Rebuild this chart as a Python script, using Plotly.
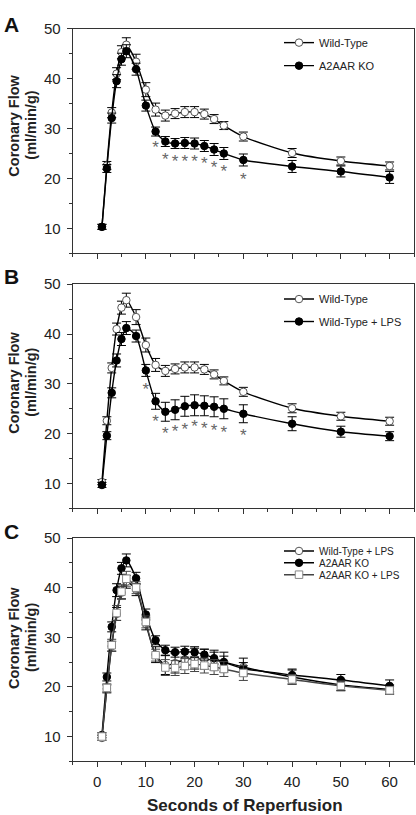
import plotly.graph_objects as go

# ---------------- data ----------------
time = [1, 2, 3, 4, 5, 6, 8, 10, 12, 14, 16, 18, 20, 22, 24, 26, 30, 40, 50, 60]

wt = [10.3, 22.6, 33.2, 41.0, 45.3, 46.8, 43.4, 37.8, 33.8, 32.6, 33.0, 33.3, 33.3, 32.9, 31.9, 30.6, 28.4, 25.1, 23.5, 22.5]
wt_err = [0.5, 0.8, 1.0, 1.2, 1.3, 1.4, 1.5, 1.4, 1.3, 1.1, 1.0, 1.1, 1.1, 1.0, 0.9, 0.8, 0.9, 0.9, 0.8, 0.8]

ko = [10.3, 22.0, 32.1, 39.5, 43.9, 45.5, 41.9, 34.6, 29.4, 27.4, 27.0, 27.1, 27.0, 26.5, 25.8, 25.0, 23.7, 22.4, 21.4, 20.2]
ko_err = [0.5, 0.8, 1.0, 1.3, 1.2, 1.3, 1.2, 1.1, 0.9, 1.0, 1.0, 1.1, 1.1, 1.1, 1.2, 1.2, 1.2, 1.2, 1.1, 1.2]

wt_lps = [9.7, 19.6, 28.2, 34.7, 39.0, 41.2, 39.6, 32.7, 26.5, 24.4, 24.8, 25.5, 25.7, 25.6, 25.4, 25.0, 24.0, 22.0, 20.4, 19.5]
wt_lps_err = [0.5, 0.8, 1.0, 1.3, 1.3, 1.3, 1.2, 1.2, 1.6, 1.9, 2.0, 2.0, 2.1, 2.0, 2.0, 2.0, 1.8, 1.4, 1.1, 0.9]

ko_lps = [10.0, 19.8, 28.4, 34.9, 39.2, 41.8, 40.0, 33.1, 26.4, 23.9, 23.8, 24.2, 24.6, 24.3, 24.0, 23.6, 22.8, 21.5, 20.2, 19.3]
ko_lps_err = [0.5, 0.8, 1.2, 1.5, 1.4, 1.5, 1.2, 1.2, 1.2, 1.6, 1.5, 1.5, 1.5, 1.5, 1.5, 1.5, 1.5, 1.0, 1.0, 0.8]

# significance markers (asterisk anchor positions)
sig_a_x = [12, 14, 16, 18, 20, 22, 24, 26, 30]
sig_a_y = [25.9, 23.6, 23.1, 23.1, 23.1, 22.7, 21.9, 21.2, 19.5]
sig_b_x = [10, 12, 14, 16, 18, 20, 22, 24, 26, 30]
sig_b_y = [28.7, 22.2, 19.7, 20.2, 20.6, 21.1, 20.7, 20.4, 20.0, 19.3]

x_ticks = [0, 10, 20, 30, 40, 50, 60]
y_ticks = [10, 20, 30, 40, 50]

W, H = 416, 815
FONT = "Liberation Sans, Arial, sans-serif"

fig = go.Figure()


def series(name, y, err, axis, legend, style):
    if style == "filled":
        marker = dict(symbol="circle", size=7.5, color="black", line=dict(color="black", width=1))
        lc, ec = "black", "black"
    elif style == "open":
        marker = dict(symbol="circle", size=7.5, color="white", line=dict(color="#555", width=1))
        lc, ec = "black", "black"
    else:
        marker = dict(symbol="square", size=7.5, color="white", line=dict(color="#888", width=1))
        lc, ec = "#444", "#444"
    xa = "x" if axis == 1 else f"x{axis}"
    ya = "y" if axis == 1 else f"y{axis}"
    fig.add_trace(go.Scatter(
        x=time, y=y, name=name, mode="lines+markers",
        xaxis=xa, yaxis=ya, legend=legend,
        line=dict(color=lc, width=1.4, shape="spline", smoothing=0.7),
        marker=marker,
        error_y=dict(type="data", array=err, visible=True, color=ec, thickness=1, width=4.5),
    ))


def stars(xs, ys, axis):
    xa = "x" if axis == 1 else f"x{axis}"
    ya = "y" if axis == 1 else f"y{axis}"
    fig.add_trace(go.Scatter(
        x=xs, y=ys, mode="text", text=["*"] * len(xs), showlegend=False,
        xaxis=xa, yaxis=ya, textfont=dict(family=FONT, size=17, color="#666"),
        hoverinfo="skip",
    ))


# Panel A
series("Wild-Type", wt, wt_err, 1, "legend", "open")
series("A2AAR KO", ko, ko_err, 1, "legend2", "filled")
stars(sig_a_x, sig_a_y, 1)
# Panel B
series("Wild-Type", wt, wt_err, 2, "legend3", "open")
series("Wild-Type + LPS", wt_lps, wt_lps_err, 2, "legend4", "filled")
stars(sig_b_x, sig_b_y, 2)
# Panel C
series("Wild-Type + LPS", wt_lps, wt_lps_err, 3, "legend5", "open")
series("A2AAR KO", ko, ko_err, 3, "legend6", "filled")
series("A2AAR KO + LPS", ko_lps, ko_lps_err, 3, "legend7", "square")

# layout geometry (pixels -> paper)
px = lambda v: v / W
py = lambda v: 1 - v / H
x_dom = [px(72.7), px(414)]
panels = [(20, 247), (278.3, 505), (535, 760.7)]

axis_common = dict(
    showline=True, linecolor="#333", linewidth=1, mirror=True,
    showgrid=False, zeroline=False, ticks="outside", ticklen=5, tickwidth=1,
    tickcolor="#333",
    tickfont=dict(family=FONT, size=15, color="#222"),
)

layout = dict(
    width=W, height=H, margin=dict(l=0, r=0, t=0, b=0),
    paper_bgcolor="white", plot_bgcolor="white",
    font=dict(family=FONT, color="#222"),
)
for i, (top, bot) in enumerate(panels, start=1):
    xk = "xaxis" if i == 1 else f"xaxis{i}"
    yk = "yaxis" if i == 1 else f"yaxis{i}"
    layout[xk] = dict(
        axis_common, domain=x_dom, range=[-5, 65], tickvals=x_ticks,
        showticklabels=(i == 3), anchor="y" if i == 1 else f"y{i}",
        minor=dict(ticks="outside", dtick=5, tick0=0, ticklen=3, tickcolor="#333", showgrid=False),
        ticklabelstandoff=2,
    )
    layout[yk] = dict(
        axis_common, domain=[py(bot), py(top)], range=[5, 50], tickvals=y_ticks,
        anchor="x" if i == 1 else f"x{i}",
        minor=dict(ticks="outside", dtick=5, tick0=5, ticklen=3, tickcolor="#333", showgrid=False),
        ticklabelstandoff=3,
    )

legend_pos = [("legend", 34, 11), ("legend2", 57.3, 11), ("legend3", 293.3, 11), ("legend4", 316, 11),
              ("legend5", 548, 10), ("legend6", 560, 10), ("legend7", 572, 10)]
for key, yc, fs in legend_pos:
    layout[key] = dict(
        x=px(279), y=py(yc), xanchor="left", yanchor="middle",
        bgcolor="rgba(0,0,0,0)", borderwidth=0, itemwidth=30,
        font=dict(family=FONT, size=fs, color="#222"),
        itemclick=False, itemdoubleclick=False,
    )

annotations = []
for letter, yc in zip(["A", "B", "C"], [16, 270, 528]):
    annotations.append(dict(
        text=f"<b>{letter}</b>", x=px(2), y=py(yc), xref="paper", yref="paper",
        xanchor="left", yanchor="middle", showarrow=False,
        font=dict(family=FONT, size=21, color="#111"),
    ))
for yc in [118, 378, 636]:
    for line_text, xc in [("Coronary Flow", 14), ("(ml/min/g)", 31)]:
        annotations.append(dict(
            text=f"<b>{line_text}</b>", textangle=-90,
            x=px(xc), y=py(yc), xref="paper", yref="paper",
            xanchor="center", yanchor="middle", showarrow=False,
            font=dict(family=FONT, size=14.5, color="#222"),
        ))
annotations.append(dict(
    text="<b>Seconds of Reperfusion</b>", x=px(244.7), y=py(805),
    xref="paper", yref="paper", xanchor="center", yanchor="middle",
    showarrow=False, font=dict(family=FONT, size=17, color="#222"),
))
layout["annotations"] = annotations

fig.update_layout(**layout)

fig.write_html("out.html", config={"displayModeBar": False},
               post_script="document.body.style.margin='0';")
